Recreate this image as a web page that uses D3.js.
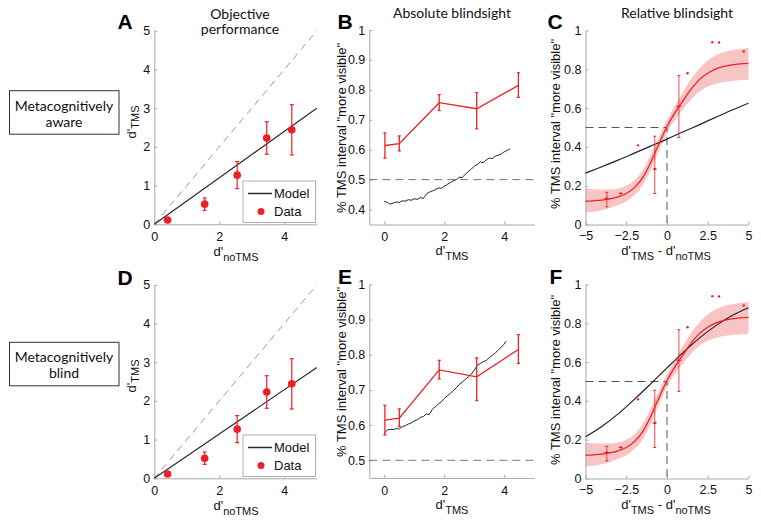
<!DOCTYPE html>
<html><head><meta charset="utf-8">
<script src="https://cdn.jsdelivr.net/npm/d3@7/dist/d3.min.js"></script>
<style>
body{margin:0;background:#fff;}
svg{display:block;}
.tick text{font-family:"Liberation Sans",Arial,sans-serif;font-size:12.5px;fill:#111;}
</style></head>
<body>
<svg id="fig" width="761" height="525"></svg>
<script>
// ---------- DATA ----------
const dNoTMS = [0.41, 1.55, 2.55, 3.46, 4.23];
const dTMS = [0.11, 0.52, 1.27, 2.23, 2.44];
const dTMSerr = [0.05, 0.16, 0.35, 0.42, 0.65];
const modelAwareA = [[0, 0], [5, 3.0]];
const modelBlindD = [[0, 0], [5, 2.86]];
const identityLine = [[0, 0], [5, 5]];

const absX = [0.02, 0.5, 1.83, 3.08, 4.47];
const absY = [0.614, 0.62, 0.757, 0.737, 0.815];
const absLo = [0.572, 0.596, 0.731, 0.670, 0.775];
const absHi = [0.656, 0.646, 0.784, 0.791, 0.857];

const modelAbsAwareX = [0, 0.1, 0.2, 0.3, 0.4, 0.5, 0.6, 0.7, 0.8, 0.9, 1.0, 1.1, 1.2, 1.3, 1.35, 1.4, 1.5, 1.6, 1.7, 1.8, 1.9, 2.0, 2.1, 2.2, 2.3, 2.4, 2.5, 2.6, 2.7, 2.8, 2.9, 3.0, 3.1, 3.2, 3.3, 3.4, 3.5, 3.6, 3.7, 3.8, 3.9, 4.0, 4.1, 4.15, 4.2];
const modelAbsAwareY = [0.427, 0.424, 0.418, 0.422, 0.425, 0.424, 0.429, 0.428, 0.433, 0.431, 0.436, 0.434, 0.440, 0.437, 0.444, 0.452, 0.458, 0.462, 0.466, 0.472, 0.471, 0.478, 0.484, 0.490, 0.496, 0.500, 0.508, 0.507, 0.518, 0.527, 0.535, 0.545, 0.551, 0.559, 0.557, 0.566, 0.572, 0.570, 0.578, 0.582, 0.586, 0.593, 0.598, 0.600, 0.604];

const modelAbsBlindX = [0, 0.1, 0.2, 0.3, 0.4, 0.5, 0.6, 0.7, 0.8, 0.9, 1.0, 1.1, 1.2, 1.3, 1.4, 1.5, 1.6, 1.7, 1.8, 1.9, 2.0, 2.1, 2.2, 2.3, 2.4, 2.5, 2.6, 2.7, 2.8, 2.9, 3.0, 3.1, 3.2, 3.3, 3.4, 3.5, 3.6, 3.7, 3.8, 3.9, 4.0, 4.05];
const modelAbsBlindY = [0.578, 0.586, 0.588, 0.587, 0.590, 0.589, 0.596, 0.598, 0.603, 0.606, 0.612, 0.615, 0.622, 0.624, 0.632, 0.630, 0.645, 0.652, 0.660, 0.666, 0.676, 0.683, 0.690, 0.698, 0.706, 0.716, 0.722, 0.730, 0.737, 0.745, 0.756, 0.770, 0.775, 0.780, 0.784, 0.792, 0.798, 0.805, 0.813, 0.822, 0.830, 0.838];

const relFitX = [-5, -4, -3.5, -3, -2.5, -2, -1.5, -1, -0.5, 0, 0.5, 1, 1.5, 2, 2.5, 3, 3.5, 4, 4.5, 5];
const relFitY = [0.120, 0.126, 0.132, 0.142, 0.160, 0.190, 0.240, 0.320, 0.415, 0.505, 0.578, 0.640, 0.700, 0.748, 0.780, 0.802, 0.815, 0.823, 0.828, 0.831];
const relBandLo = [0.062, 0.074, 0.085, 0.100, 0.120, 0.152, 0.200, 0.280, 0.380, 0.470, 0.540, 0.595, 0.645, 0.685, 0.710, 0.725, 0.735, 0.740, 0.744, 0.746];
const relBandHi = [0.185, 0.180, 0.180, 0.186, 0.200, 0.228, 0.280, 0.360, 0.450, 0.540, 0.615, 0.685, 0.752, 0.805, 0.845, 0.872, 0.888, 0.898, 0.905, 0.910];

const relDataX = [-3.69, -2.84, -1.78, -0.75, 0.73, 1.26, 2.78, 3.19, 4.71];
const relDataY = [0.134, 0.16, 0.408, 0.286, 0.609, 0.78, 0.94, 0.938, 0.892];
const relDataLo = [0.091, null, null, 0.16, 0.449, null, null, null, null];
const relDataHi = [0.166, null, null, 0.455, 0.767, null, null, null, null];
const relDataXerr = [0.15, 0.12, 0, 0.12, 0.15, 0, 0, 0, 0];

const modelRelAwareX = [-5, -4, -3, -2, -1, 0, 1, 2, 3, 4, 5];
const modelRelAwareY = [0.265, 0.298, 0.332, 0.368, 0.404, 0.440, 0.478, 0.515, 0.553, 0.590, 0.625];
const modelRelBlindX = [-5, -4, -3, -2, -1, 0, 1, 2, 3, 4, 5];
const modelRelBlindY = [0.215, 0.268, 0.333, 0.408, 0.488, 0.570, 0.650, 0.725, 0.788, 0.840, 0.880];

const ticksA = [0, 1, 2, 3, 4, 5];
const ticksAx = [0, 2, 4];
const ticksBx = [0, 2, 4];
const ticksBy = [0.4, 0.5, 0.6, 0.7, 0.8, 0.9, 1];
const ticksEy = [0.5, 0.6, 0.7, 0.8, 0.9, 1];
const ticksCx = [-5, -2.5, 0, 2.5, 5];
const ticksCy = [0, 0.2, 0.4, 0.6, 0.8, 1];

// ---------- STYLE ----------
const RED = "#ee1f26";
const AXIS = "#a8a8a8";
const svg = d3.select("#fig");
const SANS = "'Liberation Sans', Arial, sans-serif";
const HUM = "Lato, 'Open Sans', sans-serif";

function axes(x, y, xt, yt, pad) {
  const g = svg.append("g");
  const ax = d3.axisBottom(x).tickValues(xt).tickSizeInner(-3).tickSizeOuter(0).tickPadding(pad || 8).tickFormat(d3.format("~g"));
  const ay = d3.axisLeft(y).tickValues(yt).tickSizeInner(-3).tickSizeOuter(0).tickPadding(4).tickFormat(d3.format("~g"));
  const gx = g.append("g").attr("transform", `translate(0,${y.range()[0]})`).call(ax);
  const gy = g.append("g").attr("transform", `translate(${x.range()[0]},0)`).call(ay);
  [gx, gy].forEach(a => { a.select(".domain").attr("stroke", AXIS); a.selectAll(".tick line").attr("stroke", AXIS); });
  return g;
}
function label(x, y, parts, rotate) {
  const t = svg.append("text").attr("font-family", SANS).attr("font-size", 13).attr("fill", "#111").attr("text-anchor", "middle");
  if (rotate) t.attr("transform", `translate(${x},${y}) rotate(-90)`); else t.attr("x", x).attr("y", y);
  parts.forEach(p => {
    const s = t.append("tspan").text(p[0]);
    if (p[1] === "sub") s.attr("font-size", 11).attr("dy", rotate ? 3 : 5);
    if (p[1] === "up") s.attr("dy", -5);
  });
}
function letter(x, y, s) {
  svg.append("text").attr("x", x).attr("y", y).attr("font-family", SANS).attr("font-weight", "bold").attr("font-size", 21).attr("fill", "#000").attr("text-anchor", "middle").text(s);
}
function title(x, y, lines) {
  lines.forEach((l, i) => svg.append("text").attr("x", x).attr("y", y + i * 15.5).attr("font-family", HUM).attr("font-size", 14).attr("fill", "#111").attr("text-anchor", "middle").text(l));
}
const line = (x, y) => d3.line().x(d => x(d[0])).y(d => y(d[1]));

// ---------- PANELS A / D ----------
function panelAD(top, bottom, model) {
  const x = d3.scaleLinear().domain([0, 5]).range([154.3, 316.8]);
  const y = d3.scaleLinear().domain([0, 5]).range([bottom, top]);
  axes(x, y, ticksAx, ticksA);
  svg.append("path").datum(identityLine).attr("d", line(x, y)).attr("fill", "none").attr("stroke", "#999").attr("stroke-width", 1).attr("stroke-dasharray", "7,5");
  svg.append("path").datum(model).attr("d", line(x, y)).attr("fill", "none").attr("stroke", "#2a2a2a").attr("stroke-width", 1.2);
  dNoTMS.forEach((xv, i) => {
    const cx = x(xv);
    svg.append("line").attr("x1", cx).attr("x2", cx).attr("y1", y(dTMS[i] - dTMSerr[i])).attr("y2", y(dTMS[i] + dTMSerr[i])).attr("stroke", RED).attr("stroke-width", 1.2);
    [dTMS[i] - dTMSerr[i], dTMS[i] + dTMSerr[i]].forEach(v => svg.append("line").attr("x1", cx - 2).attr("x2", cx + 2).attr("y1", y(v)).attr("y2", y(v)).attr("stroke", RED).attr("stroke-width", 1.2));
    svg.append("circle").attr("cx", cx).attr("cy", y(dTMS[i])).attr("r", 3.8).attr("fill", RED);
  });
  // legend
  const lx = 243, ly = bottom - 43.3;
  svg.append("rect").attr("x", lx).attr("y", ly).attr("width", 72.5).attr("height", 41.5).attr("fill", "#fff").attr("stroke", "#b0b0b0").attr("stroke-width", 1);
  svg.append("line").attr("x1", lx + 5).attr("x2", lx + 29).attr("y1", ly + 12.5).attr("y2", ly + 12.5).attr("stroke", "#2a2a2a").attr("stroke-width", 1.5);
  svg.append("circle").attr("cx", lx + 18).attr("cy", ly + 30.5).attr("r", 3.5).attr("fill", RED);
  svg.append("text").attr("x", lx + 31).attr("y", ly + 17).attr("font-family", SANS).attr("font-size", 13).attr("fill", "#111").text("Model");
  svg.append("text").attr("x", lx + 31).attr("y", ly + 35).attr("font-family", SANS).attr("font-size", 13).attr("fill", "#111").text("Data");
}
panelAD(30.7, 224.3, modelAwareA);
panelAD(284.8, 478.3, modelBlindD);

// ---------- PANELS B / E ----------
function panelBE(top, bottom, ydom, yt, modX, modY) {
  const x = d3.scaleLinear().domain([-0.5, 5]).range([369.3, 534.3]);
  const y = d3.scaleLinear().domain(ydom).range([bottom, top]);
  axes(x, y, ticksBx, yt);
  svg.append("line").attr("x1", x(-0.5)).attr("x2", x(5)).attr("y1", y(0.5)).attr("y2", y(0.5)).attr("stroke", "#777").attr("stroke-width", 1).attr("stroke-dasharray", "8,5");
  svg.append("path").datum(modX.map((v, i) => [v, modY[i]])).attr("d", line(x, y)).attr("fill", "none").attr("stroke", "#222").attr("stroke-width", 1);
  svg.append("path").datum(absX.map((v, i) => [v, absY[i]])).attr("d", line(x, y)).attr("fill", "none").attr("stroke", RED).attr("stroke-width", 1.3);
  absX.forEach((xv, i) => {
    const cx = x(xv);
    svg.append("line").attr("x1", cx).attr("x2", cx).attr("y1", y(absLo[i])).attr("y2", y(absHi[i])).attr("stroke", RED).attr("stroke-width", 1.3);
    [absLo[i], absHi[i]].forEach(v => svg.append("line").attr("x1", cx - 1.5).attr("x2", cx + 1.5).attr("y1", y(v)).attr("y2", y(v)).attr("stroke", RED).attr("stroke-width", 1.3));
  });
}
panelBE(30, 224.5, [0.35, 1], ticksBy, modelAbsAwareX, modelAbsAwareY);
panelBE(284.3, 477.9, [0.45, 1], ticksEy, modelAbsBlindX, modelAbsBlindY);

// ---------- PANELS C / F ----------
function panelCF(top, bottom, modX, modY) {
  const x = d3.scaleLinear().domain([-5, 5]).range([585.5, 748.5]);
  const y = d3.scaleLinear().domain([0, 1]).range([bottom, top]);
  svg.append("path").datum(relFitX.map((v, i) => [v, relBandLo[i], relBandHi[i]]))
    .attr("d", d3.area().x(d => x(d[0])).y0(d => y(d[1])).y1(d => y(d[2])).curve(d3.curveMonotoneX))
    .attr("fill", "#f9c4c4");
  axes(x, y, ticksCx, ticksCy, 7);
  svg.append("path").datum([[-5, 0.5], [0, 0.5], [0, 0]]).attr("d", line(x, y)).attr("fill", "none").attr("stroke", "#555").attr("stroke-width", 1).attr("stroke-dasharray", "8,5");
  svg.append("path").datum(modX.map((v, i) => [v, modY[i]])).attr("d", line(x, y).curve(d3.curveMonotoneX)).attr("fill", "none").attr("stroke", "#222").attr("stroke-width", 1.2);
  svg.append("path").datum(relFitX.map((v, i) => [v, relFitY[i]])).attr("d", line(x, y).curve(d3.curveMonotoneX)).attr("fill", "none").attr("stroke", RED).attr("stroke-width", 1.3);
  relDataX.forEach((xv, i) => {
    const cx = x(xv), cy = y(relDataY[i]);
    if (relDataLo[i] !== null) {
      svg.append("line").attr("x1", cx).attr("x2", cx).attr("y1", y(relDataLo[i])).attr("y2", y(relDataHi[i])).attr("stroke", RED).attr("stroke-width", 1).attr("opacity", 0.8);
      [relDataLo[i], relDataHi[i]].forEach(v => svg.append("line").attr("x1", cx - 1.5).attr("x2", cx + 1.5).attr("y1", y(v)).attr("y2", y(v)).attr("stroke", RED).attr("stroke-width", 1));
    }
    if (relDataXerr[i] > 0) svg.append("line").attr("x1", x(xv - relDataXerr[i])).attr("x2", x(xv + relDataXerr[i])).attr("y1", cy).attr("y2", cy).attr("stroke", RED).attr("stroke-width", 1);
    svg.append("circle").attr("cx", cx).attr("cy", cy).attr("r", 1.2).attr("fill", RED);
  });
}
panelCF(30.5, 224.5, modelRelAwareX, modelRelAwareY);
panelCF(284.5, 478.5, modelRelBlindX, modelRelBlindY);

// ---------- TEXT ----------
letter(125, 29, "A"); letter(345, 29, "B"); letter(555, 29, "C");
letter(125, 285, "D"); letter(345, 284, "E"); letter(556, 284, "F");
title(240, 18.5, ["Objective", "performance"]);
title(452, 18, ["Absolute blindsight"]);
title(677, 17.5, ["Relative blindsight"]);

// boxes
[[90.7, "aware"], [342.3, "blind"]].forEach(([ty, w]) => {
  svg.append("rect").attr("x", 9.5).attr("y", ty).attr("width", 109.5).attr("height", 43.5).attr("fill", "#fff").attr("stroke", "#333").attr("stroke-width", 1);
  svg.append("text").attr("x", 64).attr("y", ty + 20).attr("font-family", HUM).attr("font-size", 14).attr("fill", "#111").attr("text-anchor", "middle").text("Metacognitively");
  svg.append("text").attr("x", 64).attr("y", ty + 36).attr("font-family", HUM).attr("font-size", 14).attr("fill", "#111").attr("text-anchor", "middle").text(w);
});

// axis labels
[[122, 0], [376, 254]].forEach(([cy, off]) => {
  label(136, cy, [["d'"], ["TMS", "sub"]], true);
  label(236, 256 + off, [["d'"], ["noTMS", "sub"]]);
  label(346, off === 0 ? 128 : 372, [["% TMS interval \"more visible\""]], true);
  label(452, 255 + off, [["d'"], ["TMS", "sub"]]);
  label(560, off === 0 ? 124 : 380, [["% TMS interval \"more visible\""]], true);
  label(666, 255 + off, [["d'"], ["TMS", "sub"], [" - d'", "up"], ["noTMS", "sub"]]);
});
</script>
</body></html>
